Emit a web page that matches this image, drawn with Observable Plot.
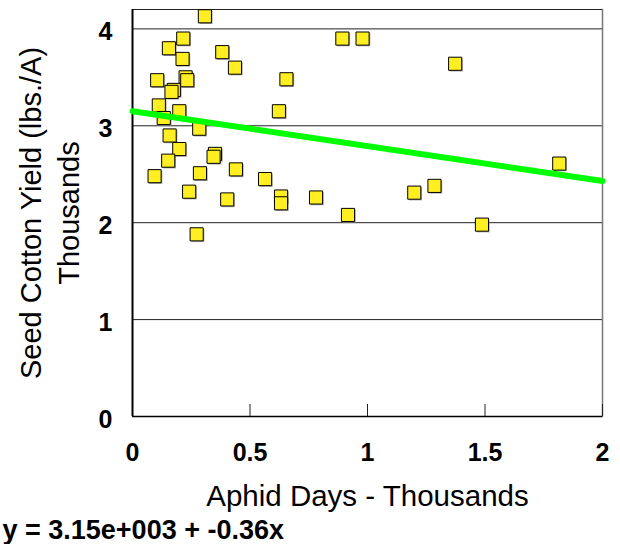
<!DOCTYPE html>
<html>
<head>
<meta charset="utf-8">
<script src="https://cdn.jsdelivr.net/npm/d3@7"></script>
<script src="https://cdn.jsdelivr.net/npm/@observablehq/plot@0.6"></script>
<style>
  html, body { margin: 0; padding: 0; background: #fff; }
  svg { display: block; }
</style>
</head>
<body>
<div id="chart"></div>
<script>
// Aphid days (thousands)
const aphidDays = [0.308, 0.216, 0.155, 0.213, 0.382, 0.436, 0.893, 0.979, 0.105, 0.226,
  0.233, 0.655, 0.176, 0.166, 0.112, 0.199, 0.623, 0.133, 0.284, 0.158,
  0.199, 0.351, 0.345, 0.152, 0.094, 0.287, 0.440, 0.564, 0.241, 0.403,
  0.632, 0.632, 0.781, 0.917, 0.273, 1.373, 1.816, 1.199, 1.285, 1.487];
// Seed cotton yield (thousands lbs./A)
const seedYield = [4.13, 3.90, 3.80, 3.69, 3.76, 3.60, 3.90, 3.90, 3.47, 3.50,
  3.47, 3.48, 3.37, 3.35, 3.21, 3.15, 3.15, 3.08, 2.97, 2.90,
  2.76, 2.71, 2.68, 2.64, 2.48, 2.51, 2.55, 2.45, 2.32, 2.24,
  2.27, 2.20, 2.26, 2.08, 1.88, 3.64, 2.61, 2.31, 2.38, 1.98];
// Fitted line endpoints
const fitX = [0, 2];
const fitY = [3.15, 2.43];
const xTicks = [0, 0.5, 1, 1.5, 2];
const yTicks = [0, 1, 2, 3, 4];
const xTitle = "Aphid Days - Thousands";
const yTitle1 = "Seed Cotton Yield (lbs./A)";
const yTitle2 = "Thousands";
const equation = "y = 3.15e+003 + -0.36x";

const points = aphidDays.map((x, i) => ({x, y: seedYield[i]}));
const fit = fitX.map((x, i) => ({x, y: fitY[i]}));

const W = 620, H = 544, mT = 9, mB = 128, mL = 132, mR = 18;
const frameH = H - mT - mB;
const font = "'Liberation Sans', Arial, sans-serif";
const fmt = d => `${d}`;

const chart = Plot.plot({
  width: W,
  height: H,
  marginTop: mT,
  marginBottom: mB,
  marginLeft: mL,
  marginRight: mR,
  style: {fontFamily: font, background: "#fff", overflow: "visible"},
  x: {domain: [0, 2], ticks: xTicks, label: null},
  y: {domain: [0, 4.2], ticks: yTicks, label: null},
  marks: [
    Plot.ruleY(yTicks.filter(d => d > 0), {stroke: "#222", strokeWidth: 1}),
    Plot.frame({anchor: "top", stroke: "#222", strokeWidth: 1}),
    Plot.frame({anchor: "right", stroke: "#777", strokeWidth: 1.5}),
    Plot.tickX(xTicks, {x: d => d, insetTop: frameH - 12, stroke: "#222", strokeWidth: 1}),
    Plot.ruleY([0], {stroke: "#000", strokeWidth: 1.5}),
    Plot.ruleX([0], {stroke: "#000", strokeWidth: 2}),
    Plot.axisY({ticks: yTicks, tickFormat: fmt, tickSize: 0, tickPadding: 20, fontSize: 25, fontWeight: "bold", dy: 3, fill: "#000"}),
    Plot.axisX({ticks: xTicks, tickFormat: fmt, tickSize: 0, tickPadding: 27, fontSize: 25, fontWeight: "bold", fill: "#000"}),
    Plot.dot(points, {x: "x", y: "y", symbol: "square", r: 7.4, fill: "#888", stroke: "none", dx: 1.2, dy: 1.2, fillOpacity: 0.7}),
    Plot.dot(points, {x: "x", y: "y", symbol: "square", r: 7.4, fill: "#ffee22", stroke: "#000", strokeWidth: 1}),
    Plot.line(fit, {x: "x", y: "y", stroke: "#00ff00", strokeWidth: 6}),
    Plot.text([xTitle], {frameAnchor: "bottom", text: d => d, lineAnchor: "bottom", dy: 89, fontSize: 29.5, fill: "#000"}),
    Plot.text([yTitle1], {frameAnchor: "left", text: d => d, rotate: -90, lineAnchor: "bottom", textAnchor: "middle", dx: -92, fontSize: 29, fill: "#000"}),
    Plot.text([yTitle2], {frameAnchor: "left", text: d => d, rotate: -90, lineAnchor: "bottom", textAnchor: "middle", dx: -54, fontSize: 29, fill: "#000"}),
    Plot.text([equation], {frameAnchor: "bottom-left", text: d => d, textAnchor: "start", lineAnchor: "bottom", dx: -130, dy: 122, fontSize: 27, fontWeight: "bold", fill: "#000"})
  ]
});
document.getElementById("chart").appendChild(chart);
</script>
</body>
</html>
